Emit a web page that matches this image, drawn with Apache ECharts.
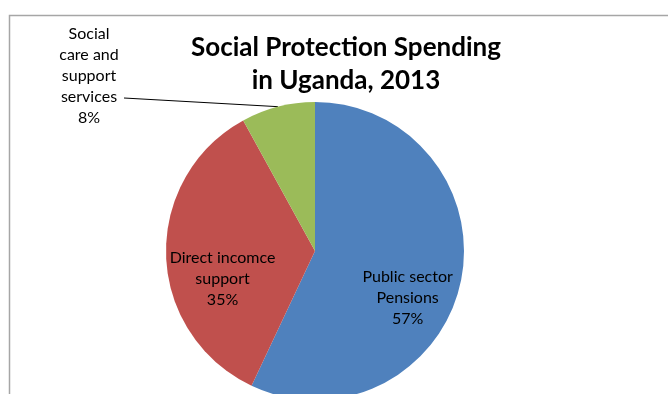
<!DOCTYPE html>
<html>
<head>
<meta charset="utf-8">
<script src="https://cdn.jsdelivr.net/npm/echarts@6/dist/echarts.min.js"></script>
<style>
  html, body { margin: 0; padding: 0; background: #fff; }
  #chart { width: 668px; height: 394px; }
</style>
</head>
<body>
<div id="chart"></div>
<script>
// data
const categories = ['Public sector\nPensions', 'Direct incomce\nsupport', 'Social\ncare and\nsupport\nservices'];
const shares = [57, 35, 8];
const colors = ['#4F81BD', '#C0504D', '#9BBB59'];

const chart = echarts.init(document.getElementById('chart'));

// nudges for the inside labels, relative to where echarts puts them
const labelShift = [[17, 30], [-15, 25]];

chart.setOption({
  animation: false,
  textStyle: { fontFamily: 'Lato' },
  title: {
    text: 'Social Protection Spending\nin Uganda, 2013',
    left: 341,
    top: 26,
    textAlign: 'center',
    textStyle: {
      fontFamily: 'Lato',
      fontSize: 26,
      fontWeight: 'bold',
      color: '#000',
      lineHeight: 33
    }
  },
  graphic: [{
    type: 'rect',
    shape: { x: 9.5, y: 15.5, width: 700, height: 400 },
    style: { fill: 'none', stroke: '#a6a6a6', lineWidth: 1.5 },
    silent: true
  }],
  series: [{
    type: 'pie',
    center: [315, 251],
    radius: 149,
    startAngle: 90,
    clockwise: true,
    color: colors,
    itemStyle: { borderWidth: 0 },
    label: {
      position: 'inside',
      color: '#000',
      fontSize: 16,
      lineHeight: 21,
      align: 'center',
      formatter: p => p.name + '\n' + p.value + '%'
    },
    labelLine: { show: false },
    labelLayout: function (params) {
      const i = params.dataIndex;
      if (i === 2) {
        const start = params.labelLinePoints ? params.labelLinePoints[0] : null;
        return {
          x: 89,
          y: 76,
          align: 'center',
          verticalAlign: 'middle',
          labelLinePoints: start ? [start, [124, 98], [124, 98]] : undefined
        };
      }
      return { dx: labelShift[i][0], dy: labelShift[i][1] };
    },
    data: categories.map((name, i) => {
      const item = { name: name, value: shares[i] };
      if (i === 2) {
        item.label = { position: 'outside' };
        item.labelLine = {
          show: true,
          length: 20,
          length2: 20,
          lineStyle: { color: '#000', width: 1 }
        };
      }
      return item;
    })
  }]
});
</script>
</body>
</html>
